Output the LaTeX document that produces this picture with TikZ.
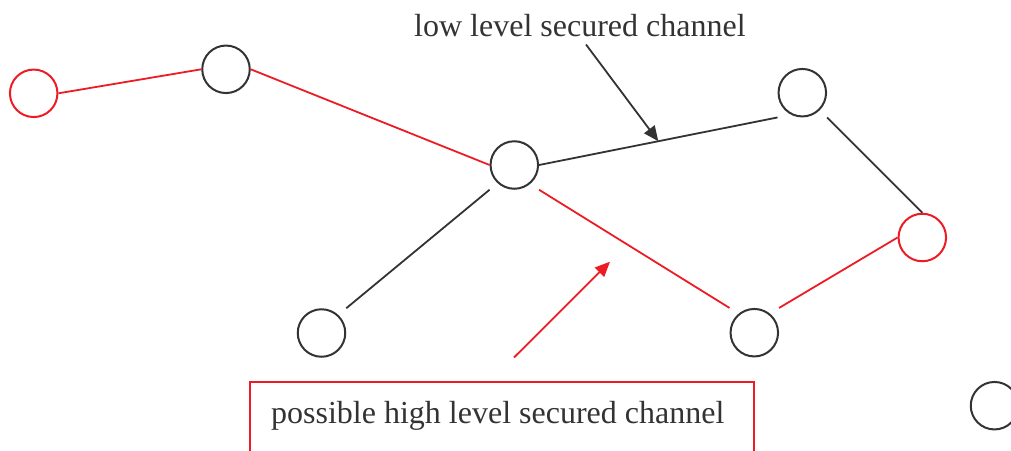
\documentclass[tikz,border=0pt]{standalone}
\usepackage{fontspec}
\setmainfont{Liberation Serif}
\usetikzlibrary{arrows.meta}
\definecolor{ink}{HTML}{333333}
\definecolor{alert}{HTML}{ED1C24}
\begin{document}
\begin{tikzpicture}[x=1pt,y=-1pt,
  nodec/.style={circle,draw=ink,line width=2pt,minimum size=47.5pt,inner sep=0pt},
  rednode/.style={nodec,draw=alert},
  lnk/.style={draw=ink,line width=1.8pt},
  redlnk/.style={draw=alert,line width=1.8pt},
  tip/.style={-{Triangle[length=15pt,width=13pt]}},
  lbl/.style={text=ink,font=\fontsize{32}{38}\selectfont,inner sep=0pt}]
\useasboundingbox (0,0) rectangle (1011,450);
% nodes
\node[rednode] (A) at (33.7,93.3) {};
\node[nodec] (B) at (226,69.3) {};
\node[nodec] (C) at (514.3,165) {};
\node[nodec] (D) at (802.3,92.7) {};
\node[rednode] (E) at (922.3,237.5) {};
\node[nodec] (F) at (321.5,333) {};
\node[nodec] (G) at (754.3,332.7) {};
\node[nodec] (H) at (994.5,405.7) {};
% links
\draw[redlnk] (A.east) -- (B.west);
\draw[redlnk] (B.east) -- (C.west);
\draw[lnk] (C.east) -- coordinate[pos=0.5] (cdmid) (D.west |- D.south);
\draw[lnk] (D.east |- D.south) -- (E.north);
\draw[lnk] (C.west |- C.south) -- (F.east |- F.north);
\draw[redlnk] (C.east |- C.south) -- (G.west |- G.north);
\draw[redlnk] (G.east |- G.north) -- (E.west);
% labels
\node[lbl,anchor=base west] (ll) at (414,36) {low level secured channel};
\coordinate (ls) at (586,44.5);
\draw[lnk,fill=ink,tip] (ls) -- (cdmid);
\draw[alert,line width=2pt] (250,470) -- (250,382) -- (754,382) -- (754,470);
\node[lbl,anchor=base west] (hl) at (271,423) {possible high level secured channel};
\coordinate (rs) at (514,357.5);
\coordinate (rt) at (610,261.7);
\draw[redlnk,fill=alert,tip] (rs) -- (rt);
\end{tikzpicture}
\end{document}
